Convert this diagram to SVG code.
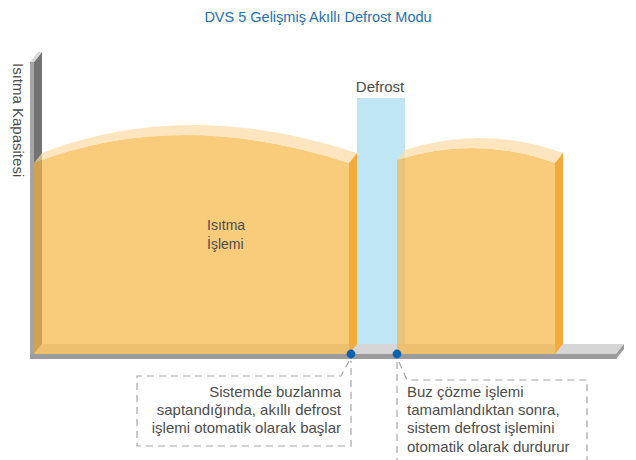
<svg xmlns="http://www.w3.org/2000/svg" width="636" height="460" viewBox="0 0 636 460">
<style>
text{font-family:"Liberation Sans",Arial,sans-serif;fill:#4d4d4d}
.title{fill:#1f6fb2;font-size:14.5px}
.lbl{font-size:15px}
.face{fill:#f6b644;fill-opacity:.7}
.band{fill:#fcdba4;fill-opacity:.7}
.side{fill:#f5aa3c}
.call{fill:none;stroke:#a6a6a6;stroke-width:1.2;stroke-dasharray:7 5}
.dot{fill:#0d62b0}
</style>
<rect width="636" height="460" fill="#fff"/>
<text class="title" x="318" y="22" text-anchor="middle">DVS 5 Gelişmiş Akıllı Defrost Modu</text>
<g id="axis">
<polygon points="30,62 34,62 34,359 30,359" fill="#a5a5a5"/>
<polygon points="34,62 42,52 42,344 34,354" fill="#737373"/>
<polygon points="30,62 38,52 42,52 34,62" fill="#d9d9d9"/>
<polygon points="34,354 42,344 624,344 616,354" fill="#d6d6d6"/>
<polygon points="30,354 616,354 624,344 624,349 616,359 30,359" fill="#9b9b9b"/>
<text class="lbl" transform="translate(13,63) rotate(90)">Isıtma Kapasitesi</text>
</g>
<g id="defrost">
<rect x="357" y="98" width="48" height="246" fill="#c0e6f6"/>
<text class="lbl" x="380" y="92" text-anchor="middle">Defrost</text>
</g>
<g id="heating1">
<path class="face" d="M34,163 Q178,107 349,163 L349,354 L34,354 Z"/>
<path class="band" d="M34,163 Q178,107 349,163 L357,153 Q186,97 42,153 Z"/>
<polygon class="side" points="349,163 357,153 357,344 349,354"/>
<text x="207" y="230" style="font-size:14px">Isıtma</text>
<text x="207" y="249" style="font-size:14px">İşlemi</text>
</g>
<g id="heating2">
<path class="face" d="M397,160 Q476,134.5 555,163 L555,354 L397,354 Z"/>
<path class="band" d="M397,160 Q476,134.5 555,163 L563,153 Q484,124.5 405,150 Z"/>
<polygon class="side" points="555,163 563,153 563,344 555,354"/>
</g>
<g id="connectors">
<path class="call" d="M349,361 L341,376 L137,376 L137,446 L351,446 L351,361"/>
<path class="call" d="M397,362 L397,470 M399,362 L407,380 L587,380 L587,470"/>
</g>
<g id="dots">
<circle class="dot" cx="351" cy="354" r="4.4"/>
<circle class="dot" cx="397" cy="354" r="4.4"/>
</g>
<g id="note1">
<text class="lbl" x="341" y="397" text-anchor="end">Sistemde buzlanma</text>
<text class="lbl" x="341" y="415" text-anchor="end">saptandığında, akıllı defrost</text>
<text class="lbl" x="341" y="433" text-anchor="end">işlemi otomatik olarak başlar</text>
</g>
<g id="note2">
<text class="lbl" x="407" y="397">Buz çözme işlemi</text>
<text class="lbl" x="407" y="415">tamamlandıktan sonra,</text>
<text class="lbl" x="407" y="433">sistem defrost işlemini</text>
<text class="lbl" x="407" y="452">otomatik olarak durdurur</text>
</g>
</svg>
